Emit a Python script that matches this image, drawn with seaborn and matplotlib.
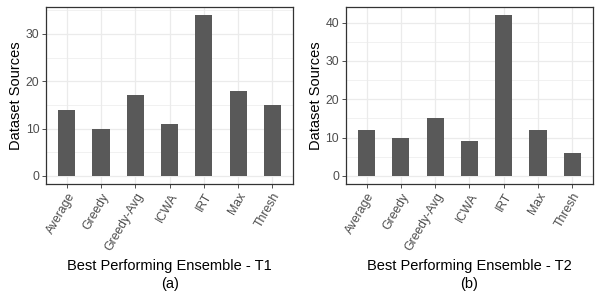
import matplotlib
matplotlib.use("Agg")
import matplotlib.pyplot as plt
from matplotlib.ticker import MultipleLocator
import pandas as pd
import seaborn as sns

ensembles = ["Average", "Greedy", "Greedy-Avg", "ICWA", "IRT", "Max", "Thresh"]
t1_counts = [14, 10, 17, 11, 34, 18, 15]
t2_counts = [12, 10, 15, 9, 42, 12, 6]
panel_titles = ["Best Performing Ensemble - T1\n(a)", "Best Performing Ensemble - T2\n(b)"]

sns.set_theme(style="whitegrid")
plt.rcParams["font.family"] = ["Liberation Sans", "DejaVu Sans"]

BAR_COLOR = "#595959"
GRID = "#EBEBEB"

fig, axes = plt.subplots(1, 2, figsize=(6, 3), dpi=100)

for ax, counts, xlabel in zip(axes, [t1_counts, t2_counts], panel_titles):
    df = pd.DataFrame({"ensemble": ensembles, "sources": counts})
    sns.barplot(data=df, x="ensemble", y="sources", color=BAR_COLOR,
                width=0.5, saturation=1, linewidth=0, ax=ax)
    top = max(counts)
    ax.set_ylim(-0.05 * top, top * 1.05)
    ax.set_xlim(-0.6, len(ensembles) - 0.4)
    ax.yaxis.set_major_locator(MultipleLocator(10))
    ax.yaxis.set_minor_locator(MultipleLocator(5))
    ax.grid(True, which="major", color=GRID, linewidth=0.9)
    ax.grid(True, which="minor", axis="y", color=GRID, linewidth=0.5)
    ax.set_axisbelow(True)
    for s in ax.spines.values():
        s.set_edgecolor("#333333")
        s.set_linewidth(0.9)
    ax.tick_params(axis="both", which="major", length=3, width=0.6,
                   color="#333333", labelcolor="#4D4D4D", labelsize=8.8, pad=2)
    ax.tick_params(axis="y", which="minor", length=0)
    ax.tick_params(bottom=True, left=True)
    plt.setp(ax.get_xticklabels(), rotation=60, ha="right", rotation_mode="anchor")
    ax.set_xlabel(xlabel, fontsize=10.5, color="black", labelpad=4, linespacing=1.35)
    ax.set_ylabel("Dataset Sources", fontsize=10.5, color="black", labelpad=2)

fig.subplots_adjust(left=0.077, right=0.988, top=0.977, bottom=0.387, wspace=0.215)
fig.savefig("out.png", dpi=100)
